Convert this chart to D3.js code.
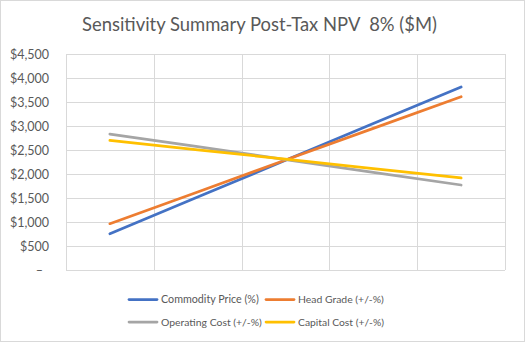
<!DOCTYPE html>
<html><head><meta charset="utf-8">
<script src="https://cdn.jsdelivr.net/npm/d3@7"></script>
<style>html,body{margin:0;padding:0;background:#fff}svg{display:block}</style>
</head><body>
<svg id="c" width="525" height="342"></svg>
<script>
const categories = ["-20%", "-10%", "0%", "10%", "20%"];
const commodityPrice = [756, 1520, 2285, 3050, 3812];
const headGrade = [965, 1625, 2290, 2950, 3610];
const operatingCost = [2833, 2570, 2300, 2035, 1771];
const capitalCost = [2702, 2505, 2310, 2112, 1917];
const yTicks = [0, 500, 1000, 1500, 2000, 2500, 3000, 3500, 4000, 4500];
const seriesNames = ["Commodity Price (%)", "Head Grade (+/-%)", "Operating Cost (+/-%)", "Capital Cost (+/-%)"];
const seriesColors = ["#4472C4", "#ED7D31", "#A5A5A5", "#FFC000"];
const seriesValues = [commodityPrice, headGrade, operatingCost, capitalCost];

const FONT = "Lato, 'Open Sans', sans-serif";
const svg = d3.select("#c");
svg.append("rect").attr("x",0.5).attr("y",0.5).attr("width",524).attr("height",341)
  .attr("fill","#fff").attr("stroke","#d9d9d9");

const L=66, R=505, T=54, B=270;
const x = d3.scaleBand().domain(categories).range([L,R]);
const y = d3.scaleLinear().domain([0,4500]).range([B,T]);

function fit(sel, target){
  const w = sel.node().getComputedTextLength();
  const fs = parseFloat(sel.attr("font-size"));
  sel.attr("font-size", fs*target/w);
}

// title
const title = svg.append("text").attr("x",(82+437)/2).attr("y",31).attr("text-anchor","middle")
  .attr("font-family",FONT).attr("font-size",18).attr("fill","#595959")
  .style("white-space","pre").text("Sensitivity Summary Post-Tax NPV  8% ($M)");
fit(title, 355);

// horizontal gridlines
const g = svg.append("g");
g.selectAll("line.h").data(yTicks).join("line")
  .attr("x1",L).attr("x2",R).attr("y1",d=>Math.round(y(d))+0.5).attr("y2",d=>Math.round(y(d))+0.5)
  .attr("stroke","#d9d9d9").attr("stroke-width",1);
// vertical gridlines at category boundaries
const bounds = categories.map(c=>x(c)).concat([R]);
g.selectAll("line.v").data(bounds).join("line")
  .attr("x1",d=>Math.round(d)+0.5).attr("x2",d=>Math.round(d)+0.5).attr("y1",T).attr("y2",B)
  .attr("stroke","#d9d9d9").attr("stroke-width",1);

// y axis labels
const yAxis = d3.axisLeft(y).tickValues(yTicks).tickSize(0).tickPadding(0)
  .tickFormat(d => d===0 ? "–" : "$" + d3.format(",")(d));
const ya = svg.append("g").attr("transform",`translate(${49},0)`).call(yAxis);
ya.select(".domain").remove();
ya.selectAll("text").attr("font-family",FONT).attr("font-size",12.5).attr("fill","#595959")
  .attr("dy","0.35em").attr("x", d=> d===0 ? -6 : 0);

// lines
const line = d3.line().x((d,i)=>x(categories[i])+x.bandwidth()/2).y(d=>y(d));
svg.append("g").selectAll("path").data(seriesValues).join("path")
  .attr("d",line).attr("fill","none").attr("stroke",(d,i)=>seriesColors[i])
  .attr("stroke-width",2.75).attr("stroke-linecap","round").attr("stroke-linejoin","round");

// legend
const legendPos = [[128,299.5],[265,299.5],[128,322],[265,322]];
const textEnds = [259, 384, 262, 384];
const lg = svg.append("g");
seriesNames.forEach((n,i)=>{
  const [lx,ly]=legendPos[i];
  lg.append("line").attr("x1",lx+1).attr("x2",lx+29).attr("y1",ly).attr("y2",ly)
    .attr("stroke",seriesColors[i]).attr("stroke-width",2.75).attr("stroke-linecap","round");
  const t = lg.append("text").attr("x",lx+33).attr("y",ly).attr("dy","0.35em")
    .attr("font-family",FONT).attr("font-size",11.5).attr("fill","#595959").text(n);
  fit(t, textEnds[i]-(lx+33));
});
</script>
</body></html>
